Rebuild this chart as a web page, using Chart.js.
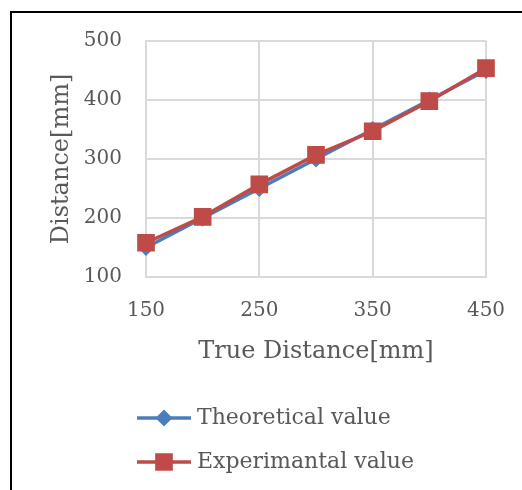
<!DOCTYPE html>
<html>
<head>
<meta charset="utf-8">
<script src="https://cdn.jsdelivr.net/npm/chart.js@4.4.0/dist/chart.umd.min.js"></script>
<style>
  html, body { margin: 0; padding: 0; background: #fff; }
</style>
</head>
<body>
<canvas id="lineChart" width="522" height="490"></canvas>
<script>
    /*global Chart*/
    var trueDistance = [150, 200, 250, 300, 350, 400, 450];
    var theoretical = [150, 200, 250, 300, 350, 400, 450];
    var experimental = [158, 202, 257, 307, 347, 398, 454];
    var seriesNames = ["Theoretical value", "Experimantal value"];
    var xTicks = [150, 250, 350, 450];
    var yTicks = [100, 200, 300, 400, 500];

    var serif = "'DejaVu Serif', serif";
    var textColor = "#595959";
    var gridColor = "#d9d9d9";

    function toPoints(vals) {
        return trueDistance.map(function (x, i) { return {x: x, y: vals[i]}; });
    }

    var lineData = {
        datasets: [
            {
                label: seriesNames[0],
                data: toPoints(theoretical),
                order: 1,
                clip: false,
                borderColor: "#4a7ebb",
                backgroundColor: "#4a7ebb",
                pointBackgroundColor: "#4a7ebb",
                pointBorderColor: "#4a7ebb",
                pointStyle: "rectRot",
                pointRadius: 6,
                borderWidth: 3.5,
                fill: false
            },
            {
                label: seriesNames[1],
                data: toPoints(experimental),
                order: 0,
                clip: false,
                borderColor: "#be4b48",
                backgroundColor: "#be4b48",
                pointBackgroundColor: "#be4b48",
                pointBorderColor: "#be4b48",
                pointStyle: "rect",
                pointRadius: 10,
                borderWidth: 3.5,
                fill: false
            }
        ]
    };

    // Excel style legend: line + marker, stacked under the plot, plus outer frame
    var sideLegend = {
        id: "sideLegend",
        afterDraw: function (chart) {
            var ctx = chart.ctx;
            ctx.save();
            ctx.strokeStyle = "#000";
            ctx.lineWidth = 2;
            ctx.strokeRect(11, 12, 700, 700);

            chart.data.datasets.forEach(function (ds, i) {
                var y = 418 + i * 44;
                ctx.strokeStyle = ds.borderColor;
                ctx.lineWidth = 3.5;
                ctx.beginPath();
                ctx.moveTo(137, y);
                ctx.lineTo(191, y);
                ctx.stroke();
                Chart.helpers.drawPoint(ctx, {
                    pointStyle: ds.pointStyle,
                    radius: ds.pointRadius,
                    borderWidth: 1,
                    rotation: 0
                }, 164, y);
                ctx.fillStyle = ds.backgroundColor;
                ctx.fill();
                ctx.fillStyle = textColor;
                ctx.font = "22px " + serif;
                ctx.textBaseline = "middle";
                ctx.textAlign = "left";
                ctx.fillText(ds.label, 197, y);
            });
            ctx.restore();
        }
    };

    var lineOptions = {
        responsive: false,
        animation: false,
        layout: { padding: { left: 0, right: 36, top: 41, bottom: 123 } },
        plugins: {
            legend: { display: false },
            tooltip: { enabled: false }
        },
        scales: {
            x: {
                type: "linear",
                min: 150,
                max: 450,
                afterFit: function (scale) {
                    scale.height = 90;
                    scale.paddingLeft = 0;
                    scale.paddingRight = 0;
                },
                afterBuildTicks: function (scale) {
                    scale.ticks = xTicks.map(function (v) { return {value: v}; });
                },
                grid: { color: gridColor, lineWidth: 2, drawTicks: false },
                border: { color: gridColor, width: 2 },
                ticks: { color: textColor, padding: 22, font: { family: serif, size: 20 } },
                title: {
                    display: true,
                    text: "True Distance[mm]",
                    color: textColor,
                    padding: { top: 0, bottom: 1 },
                    font: { family: serif, size: 24 }
                }
            },
            y: {
                min: 100,
                max: 500,
                afterFit: function (scale) { scale.width = 146; },
                afterBuildTicks: function (scale) {
                    scale.ticks = yTicks.map(function (v) { return {value: v}; });
                },
                grid: { color: gridColor, lineWidth: 2, drawTicks: false },
                border: { color: gridColor, width: 2 },
                ticks: { color: textColor, padding: 24, font: { family: serif, size: 20 } },
                title: {
                    display: true,
                    text: "Distance[mm]",
                    color: textColor,
                    padding: { top: 47, bottom: 0 },
                    font: { family: serif, size: 24 }
                }
            }
        }
    };

    var ctx = document.getElementById("lineChart").getContext("2d");
    new Chart(ctx, {type: "line", data: lineData, options: lineOptions, plugins: [sideLegend]});
</script>
</body>
</html>
